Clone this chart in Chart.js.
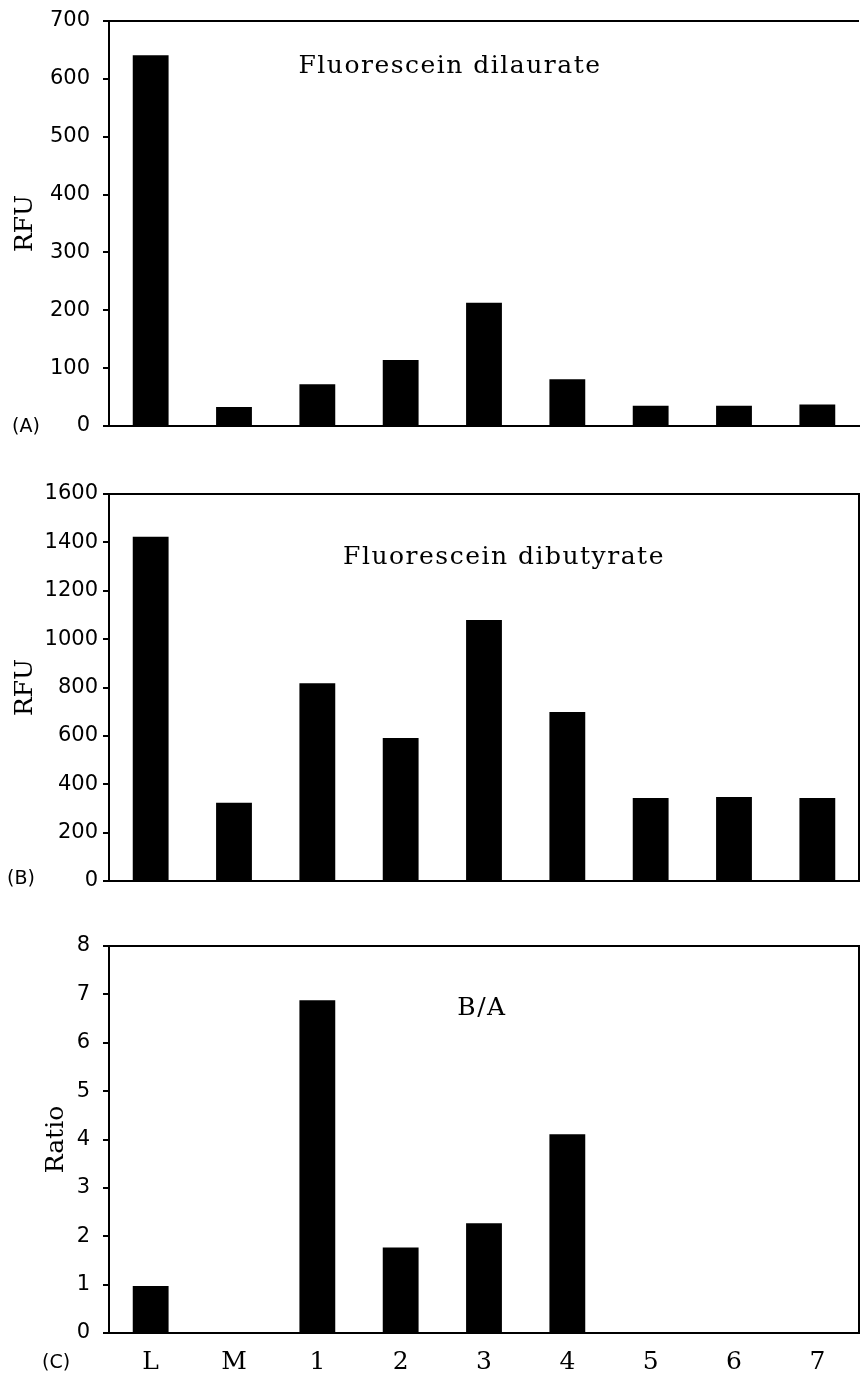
<!DOCTYPE html>
<html>
<head>
<meta charset="utf-8">
<script src="https://cdn.jsdelivr.net/npm/chart.js@4.4.1/dist/chart.umd.min.js"></script>
<style>
  body { margin: 0; background: #fff; }
  #wrap { position: relative; width: 860px; height: 1375px; }
  canvas { position: absolute; left: 0; }
  .tag { position: absolute; font-family: "DejaVu Sans", sans-serif; font-size: 19px; color: #000; line-height: 1; }
</style>
</head>
<body>
<div id="wrap">
  <canvas id="chartA" width="860" height="440" style="top:0"></canvas>
  <canvas id="chartB" width="860" height="420" style="top:470px"></canvas>
  <canvas id="chartC" width="860" height="455" style="top:920px"></canvas>
  <div class="tag" style="left:12px;top:416px">(A)</div>
  <div class="tag" style="left:7px;top:868px">(B)</div>
  <div class="tag" style="left:42px;top:1352px">(C)</div>
</div>
<script>
// --------------------- data ---------------------
const samples = ["L", "M", "1", "2", "3", "4", "5", "6", "7"];
const dilaurate = [641, 33, 72, 114, 213, 81, 35, 35, 37];
const dibutyrate = [1423, 324, 818, 591, 1079, 699, 343, 347, 343];
const ratioBA = [0.97, 0, 6.88, 1.77, 2.27, 4.11, 0, 0, 0];

const serif = "'DejaVu Serif', serif";
const sans = "'DejaVu Sans', sans-serif";

// draws the frame (top / right lines) and the inner label
const framePlugin = {
  id: "frame",
  afterDraw(chart, args, opts) {
    const { ctx, chartArea: a } = chart;
    ctx.save();
    ctx.strokeStyle = "#000";
    ctx.lineWidth = 2;
    ctx.beginPath();
    ctx.moveTo(a.left, a.top);
    ctx.lineTo(a.right, a.top);
    if (opts.right) ctx.lineTo(a.right, a.bottom);
    ctx.stroke();
    ctx.fillStyle = "#000";
    ctx.font = "25px " + serif;
    ctx.letterSpacing = "1.5px";
    ctx.textAlign = "center";
    ctx.textBaseline = "middle";
    ctx.fillText(opts.text, opts.x, opts.y);
    ctx.restore();
  }
};

function makeChart(id, values, cfg) {
  const ctx = document.getElementById(id).getContext("2d");
  return new Chart(ctx, {
    type: "bar",
    data: {
      labels: samples,
      datasets: [{
        data: values,
        backgroundColor: "#000",
        borderWidth: 0,
        barPercentage: 0.43,
        categoryPercentage: 1.0,
      }],
    },
    plugins: [framePlugin],
    options: {
      responsive: false,
      animation: false,
      layout: { padding: { top: cfg.padTop, right: 1, left: 0, bottom: 0 } },
      plugins: {
        legend: { display: false },
        tooltip: { enabled: false },
        frame: cfg.frame,
      },
      scales: {
        x: {
          grid: { display: false },
          border: { display: true, color: "#000", width: 2 },
          ticks: {
            display: cfg.showX,
            color: "#000",
            padding: 6,
            font: { family: serif, size: 25 },
          },
          afterFit: (s) => { s.height = cfg.xHeight; },
        },
        y: {
          min: 0,
          max: cfg.max,
          grid: { display: true, drawOnChartArea: false, drawTicks: true, tickLength: 6, color: "#000", lineWidth: 2 },
          border: { display: true, color: "#000", width: 2 },
          ticks: {
            stepSize: cfg.step,
            color: "#000",
            padding: cfg.tickPad,
            // tiny line height so the labels don't push the plot area around
            font: { family: sans, size: 21, lineHeight: 0.01 },
            callback: (v) => String(v),
          },
          title: {
            display: true,
            text: cfg.title,
            color: "#000",
            font: { family: serif, size: 25 },
            padding: { top: cfg.titlePad, bottom: 0 },
          },
          afterFit: (s) => { s.width = 109; },
        },
      },
    },
  });
}

makeChart("chartA", dilaurate, {
  max: 700, step: 100, padTop: 21, xHeight: 14, showX: false,
  tickPad: 13, title: "RFU", titlePad: 10,
  frame: { text: "Fluorescein dilaurate", x: 450, y: 66, right: false },
});

makeChart("chartB", dibutyrate, {
  max: 1600, step: 200, padTop: 24, xHeight: 9, showX: false,
  tickPad: 5, title: "RFU", titlePad: 10,
  frame: { text: "Fluorescein dibutyrate", x: 504, y: 87, right: true },
});

makeChart("chartC", ratioBA, {
  max: 8, step: 1, padTop: 26, xHeight: 42, showX: true,
  tickPad: 13, title: "Ratio", titlePad: 41,
  frame: { text: "B/A", x: 482, y: 88, right: true },
});
</script>
</body>
</html>
